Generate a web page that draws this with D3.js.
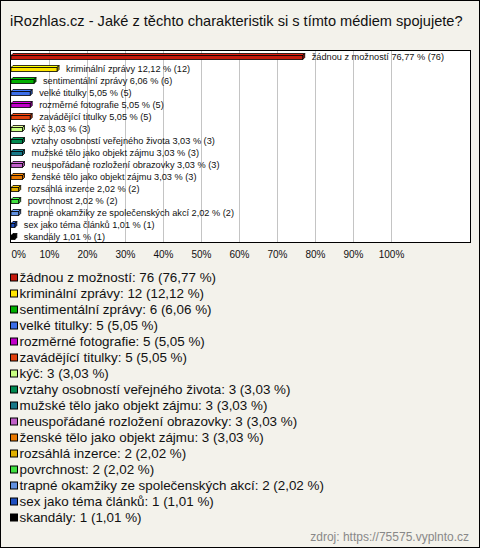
<!DOCTYPE html>
<html><head><meta charset="utf-8">
<script src="https://cdn.jsdelivr.net/npm/d3@7"></script>
<style>html,body{margin:0;padding:0;background:#fff}</style>
</head><body>
<script>
const categories = ["žádnou z možností","kriminální zprávy","sentimentální zprávy","velké titulky","rozměrné fotografie","zavádějící titulky","kýč","vztahy osobností veřejného života","mužské tělo jako objekt zájmu","neuspořádané rozložení obrazovky","ženské tělo jako objekt zájmu","rozsáhlá inzerce","povrchnost","trapné okamžiky ze společenských akcí","sex jako téma článků","skandály"];
const counts = [76,12,6,5,5,5,3,3,3,3,3,2,2,2,1,1];
const percents = [76.77,12.12,6.06,5.05,5.05,5.05,3.03,3.03,3.03,3.03,3.03,2.02,2.02,2.02,1.01,1.01];
const colors = ["#c41a0c","#ffe600","#00b000","#3c6ee8","#c000c8","#e0400c","#c8ff80","#008a50","#187888","#c060c8","#e87800","#e0b000","#40e040","#6090e0","#2050c0","#000000"];
const tickValues = [0,10,20,30,40,50,60,70,80,90,100];

const W=480,H=548;
const FONT="Liberation Sans, Arial, sans-serif";
const svg=d3.select("body").append("svg").attr("width",W).attr("height",H);
svg.append("rect").attr("x",0.5).attr("y",0.5).attr("width",W-1).attr("height",H-1).attr("fill","#f3f2eb").attr("stroke","#000");

svg.append("text").attr("x",10).attr("y",26).attr("font-family",FONT).attr("font-size",14.6).attr("fill","#111")
  .text("iRozhlas.cz - Jaké z těchto charakteristik si s tímto médiem spojujete?");

const box={x:10,y:50,w:460,h:192};
svg.append("rect").attr("x",box.x+0.5).attr("y",box.y+0.5).attr("width",box.w).attr("height",box.h).attr("fill","#fff");
const x=d3.scaleLinear().domain([0,100]).range([11,391]);
const y=d3.scaleBand().domain(categories).range([box.y+0.5,box.y+192.5]);

svg.append("g").selectAll("line").data(tickValues.filter(d=>d>0)).join("line")
  .attr("x1",d=>Math.round(x(d))+0.5).attr("x2",d=>Math.round(x(d))+0.5)
  .attr("y1",box.y+1).attr("y2",box.y+box.h).attr("stroke","#c4c4c4");

svg.append("rect").attr("x",box.x+0.5).attr("y",box.y+0.5).attr("width",box.w).attr("height",box.h).attr("fill","none").attr("stroke","#000");

const d=2, fh=4;
const rows=svg.append("g").selectAll("g").data(categories).join("g");
rows.each(function(c,i){
  const g=d3.select(this);
  const yc=y(c)+y.bandwidth()/2;
  const x0=x(0), x1=x(percents[i]);
  const top=yc-fh/2+1;
  const col=d3.color(colors[i]);
  g.append("polygon").attr("points",[[x0,top],[x0+d,top-d],[x1+d,top-d],[x1,top]].join(" "))
    .attr("fill",col.brighter(0.4)).attr("stroke","#000").attr("stroke-width",0.8);
  g.append("polygon").attr("points",[[x1,top],[x1+d,top-d],[x1+d,top-d+fh],[x1,top+fh]].join(" "))
    .attr("fill",col.darker(0.6)).attr("stroke","#000").attr("stroke-width",0.8);
  g.append("rect").attr("x",x0).attr("y",top).attr("width",x1-x0).attr("height",fh)
    .attr("fill",col).attr("stroke","#000").attr("stroke-width",0.8);
  g.append("text").attr("x",x1+d+7).attr("y",yc+3.5)
    .attr("font-family",FONT).attr("font-size",9.2).attr("fill","#111")
    .text(`${c} ${percents[i].toFixed(2).replace(".",",")} % (${counts[i]})`);
});

const axis=d3.axisBottom(x).tickValues(tickValues).tickSize(0).tickFormat(v=>v+"%");
const ag=svg.append("g").attr("transform",`translate(0,${box.y+box.h})`).call(axis);
ag.select(".domain").remove();
ag.selectAll("text").attr("font-family",FONT).attr("font-size",10).attr("fill","#111").attr("dy",0).attr("y",16)
  .attr("text-anchor",v=>v===0?"start":"middle");

const lg=svg.append("g").selectAll("g").data(categories).join("g")
  .attr("transform",(c,i)=>`translate(0,${281.5+i*16})`);
lg.append("rect").attr("x",10.5).attr("y",-7.5).attr("width",7).attr("height",7).attr("fill",(c,i)=>colors[i]).attr("stroke","#000");
lg.append("text").attr("x",19.5).attr("y",0).attr("font-family",FONT).attr("font-size",13.4).attr("fill","#111")
  .text((c,i)=>`${c}: ${counts[i]} (${percents[i].toFixed(2).replace(".",",")} %)`);

svg.append("text").attr("x",469).attr("y",541).attr("text-anchor","end").attr("font-family",FONT).attr("font-size",12).attr("fill","#888")
  .text("zdroj: https://75575.vyplnto.cz");
</script>
</body></html>
